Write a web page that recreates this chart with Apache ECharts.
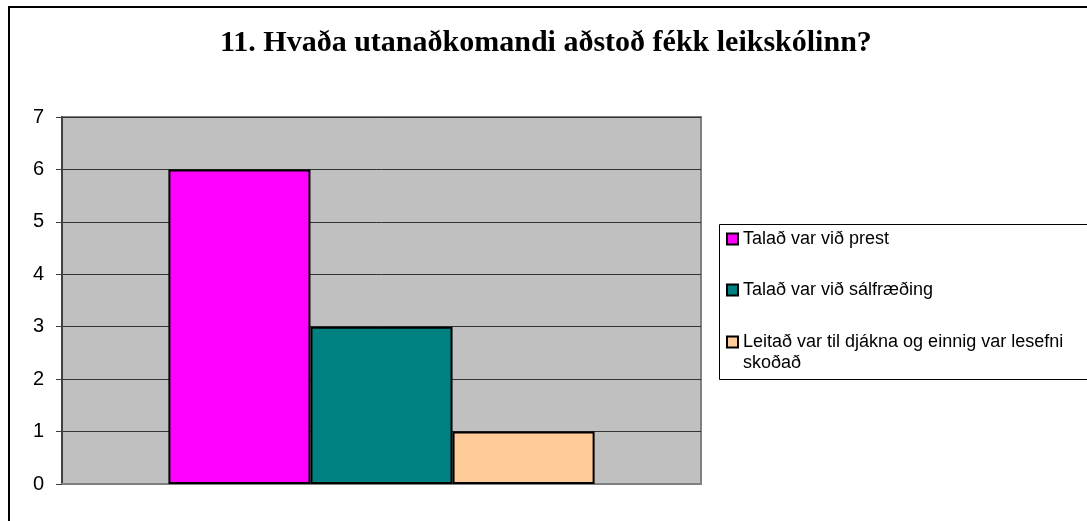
<!DOCTYPE html>
<html>
<head>
<meta charset="utf-8">
<script src="https://cdn.jsdelivr.net/npm/echarts@6/dist/echarts.min.js"></script>
<style>
html,body{margin:0;padding:0;background:#fff;}
#chart{width:1087px;height:521px;}
</style>
</head>
<body>
<div id="chart"></div>
<script>
const titleText = '11. Hvaða utanaðkomandi aðstoð fékk leikskólinn?';
const categories = [''];
const seriesNames = [
  'Talað var við prest',
  'Talað var við sálfræðing',
  'Leitað var til djákna og einnig var lesefni skoðað'
];
const seriesValues = [[6], [3], [1]];
const seriesColors = ['#FF00FF', '#008080', '#FFCC99'];
const yTicks = [0, 1, 2, 3, 4, 5, 6, 7];

const legendFont = {fontFamily: 'Liberation Sans', fontSize: 18, color: '#000'};

const chart = echarts.init(document.getElementById('chart'), null, {renderer: 'canvas'});
const option = {
  animation: false,
  backgroundColor: '#ffffff',
  title: {
    text: titleText,
    left: 220,
    top: 28,
    padding: 0,
    textStyle: {
      fontFamily: 'Liberation Serif',
      fontWeight: 'bold',
      fontSize: 30,
      color: '#000'
    }
  },
  graphic: [{
    type: 'rect',
    shape: {x: 9, y: 7, width: 1200, height: 600},
    style: {fill: 'none', stroke: '#000', lineWidth: 2},
    silent: true,
    z: -1
  }, {
    type: 'rect',
    shape: {x: 719.5, y: 224.5, width: 500, height: 155},
    style: {fill: '#fff', stroke: '#000', lineWidth: 1},
    silent: true,
    z: 0
  }],
  grid: {
    left: 62, right: 386, top: 117, bottom: 37,
    show: true,
    backgroundColor: '#C0C0C0',
    borderColor: '#808080',
    borderWidth: 2
  },
  legend: {
    orient: 'vertical',
    left: 726,
    top: 219,
    padding: 0,
    itemGap: 11,
    itemWidth: 11,
    itemHeight: 11,
    icon: 'rect',
    z: 5,
    data: seriesNames.map((n, i) => ({
      name: n,
      textStyle: i < 2 ? {lineHeight: 40} : {}
    })),
    formatter: function (name) {
      if (name === seriesNames[2]) {
        const cut = name.lastIndexOf(' ');
        return '{l1|' + name.slice(0, cut) + '}\n{l2|' + name.slice(cut + 1) + '}';
      }
      return name;
    },
    textStyle: Object.assign({
      lineHeight: 40,
      rich: {
        l1: Object.assign({lineHeight: 42}, legendFont),
        l2: Object.assign({lineHeight: 0.001}, legendFont)
      }
    }, legendFont)
  },
  xAxis: {
    type: 'category',
    data: categories,
    axisLine: {show: true, lineStyle: {color: '#808080', width: 2}},
    axisTick: {show: false},
    axisLabel: {show: false},
    splitLine: {show: false}
  },
  yAxis: {
    type: 'value',
    min: yTicks[0],
    max: yTicks[yTicks.length - 1],
    interval: 1,
    axisLine: {show: true, lineStyle: {color: '#404040', width: 2}},
    axisTick: {show: true, length: 6, lineStyle: {color: '#404040', width: 1}},
    axisLabel: {
      margin: 18,
      fontFamily: 'Liberation Sans',
      fontSize: 20,
      color: '#000'
    },
    splitLine: {show: true, lineStyle: {color: '#333', width: 1}}
  },
  series: seriesNames.map((name, i) => ({
    name: name,
    type: 'bar',
    data: seriesValues[i],
    barGap: '0%',
    barCategoryGap: '33.3%',
    itemStyle: {color: seriesColors[i], borderColor: '#000', borderWidth: 2}
  }))
};
chart.setOption(option);
</script>
</body>
</html>
